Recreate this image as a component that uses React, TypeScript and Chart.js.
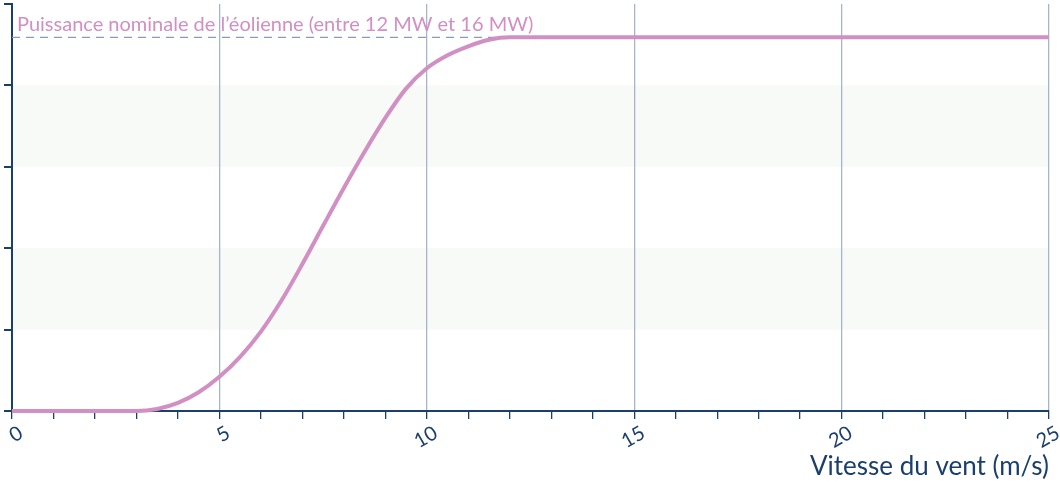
import React, { useEffect, useRef } from 'react';
import { Chart, registerables } from 'chart.js';

Chart.register(...registerables);

// Wind speed (m/s) and normalised power output
const windSpeeds = [0, 1, 2, 3, 3.5, 4, 4.5, 5, 5.5, 6, 6.5, 7, 7.5, 8, 8.5, 9, 9.5, 10, 10.5, 11, 11.5, 12, 13, 25];
const powerValues = [0, 0, 0, 0, 0.025, 0.1, 0.23, 0.42, 0.665, 0.975, 1.36, 1.805, 2.275, 2.74, 3.185, 3.6, 3.96, 4.21, 4.37, 4.48, 4.56, 4.59, 4.59, 4.59];

const ratedPower = 4.59;
const ratedLine = [0, 25];
const majorTicks = [0, 5, 10, 15, 20, 25];
const bands = [[1, 2], [3, 4]];
const ratedLabel = 'Puissance nominale de l\u2019éolienne (entre 12 MW et 16 MW)';
const xTitle = 'Vitesse du vent (m/s)';

const NAVY = '#1b3f6d';
const PINK = '#d18fc3';
const GRID = '#a7b4cc';
const BAND = '#f8faf7';
const FONT = 'Lato, "Open Sans", sans-serif';

export default function App() {
  const ref = useRef<HTMLCanvasElement | null>(null);

  useEffect(() => {
    if (!ref.current) return;
    const bandPlugin = {
      id: 'bands',
      beforeDraw(chart: any) {
        const { ctx, chartArea, scales } = chart;
        ctx.save();
        ctx.fillStyle = BAND;
        bands.forEach(([a, b]) => {
          const y1 = scales.y.getPixelForValue(b);
          const y2 = scales.y.getPixelForValue(a);
          ctx.fillRect(chartArea.left, y1, chartArea.right - chartArea.left, y2 - y1);
        });
        ctx.restore();
      },
    };
    const labelPlugin = {
      id: 'ratedLabel',
      afterDatasetsDraw(chart: any) {
        const { ctx, chartArea, scales } = chart;
        ctx.save();
        ctx.fillStyle = PINK;
        ctx.font = `20px ${FONT}`;
        ctx.textBaseline = 'alphabetic';
        ctx.textAlign = 'left';
        ctx.fillText(ratedLabel, chartArea.left + 5, scales.y.getPixelForValue(ratedPower) - 6);
        ctx.restore();
      },
    };

    const chart = new Chart(ref.current, {
      type: 'line',
      data: {
        datasets: [
          {
            data: windSpeeds.map((x, i) => ({ x, y: powerValues[i] })),
            borderColor: PINK,
            borderWidth: 4,
            pointRadius: 0,
            cubicInterpolationMode: 'monotone',
            clip: false,
            order: 1,
          } as any,
          {
            data: ratedLine.map((x) => ({ x, y: ratedPower })),
            borderColor: '#8a9aba',
            borderWidth: 1.4,
            borderDash: [8, 6],
            pointRadius: 0,
            order: 2,
          } as any,
        ],
      },
      options: {
        animation: false,
        responsive: false,
        maintainAspectRatio: false,
        layout: { padding: { top: 4, right: 11, left: 0, bottom: 0 } },
        plugins: { legend: { display: false }, tooltip: { enabled: false } },
        scales: {
          x: {
            type: 'linear',
            min: 0,
            max: 25,
            afterBuildTicks: (s: any) => {
              const t = [];
              for (let v = 0; v <= 25; v++) t.push({ value: v });
              s.ticks = t;
            },
            ticks: {
              autoSkip: false,
              maxRotation: 30,
              minRotation: 30,
              color: NAVY,
              font: { family: FONT, size: 20 },
              padding: 2,
              labelOffset: 9,
              callback: (v: any) => (majorTicks.includes(Number(v)) ? String(v) : ''),
            },
            grid: {
              color: (c: any) => (c.tick && c.tick.value % 5 === 0 && c.tick.value !== 0 ? GRID : 'rgba(0,0,0,0)'),
              tickColor: NAVY,
              tickLength: 8,
              lineWidth: 1.3,
              drawTicks: true,
            },
            border: { color: NAVY, width: 2 },
            title: {
              display: true,
              text: xTitle,
              align: 'end',
              color: NAVY,
              font: { family: FONT, size: 26 },
              padding: { top: 0, bottom: 5 },
            },
            afterFit: (s: any) => {
              s.height = 76;
              s.paddingLeft = 0;
              s.paddingRight = 0;
            },
          } as any,
          y: {
            type: 'linear',
            min: 0,
            max: 5,
            ticks: { stepSize: 1, display: false },
            grid: { drawOnChartArea: false, tickColor: NAVY, tickLength: 8, lineWidth: 2 },
            border: { color: NAVY, width: 2 },
            afterFit: (s: any) => {
              s.width = 12;
              s.paddingTop = 0;
              s.paddingBottom = 0;
            },
          } as any,
        },
      },
      plugins: [bandPlugin, labelPlugin],
    });
    return () => chart.destroy();
  }, []);

  return (
    <div style={{ position: 'absolute', left: 0, top: 0, width: 1060, height: 487, background: '#fff' }}>
      <canvas ref={ref} width={1060} height={487} style={{ display: 'block' }} />
    </div>
  );
}
